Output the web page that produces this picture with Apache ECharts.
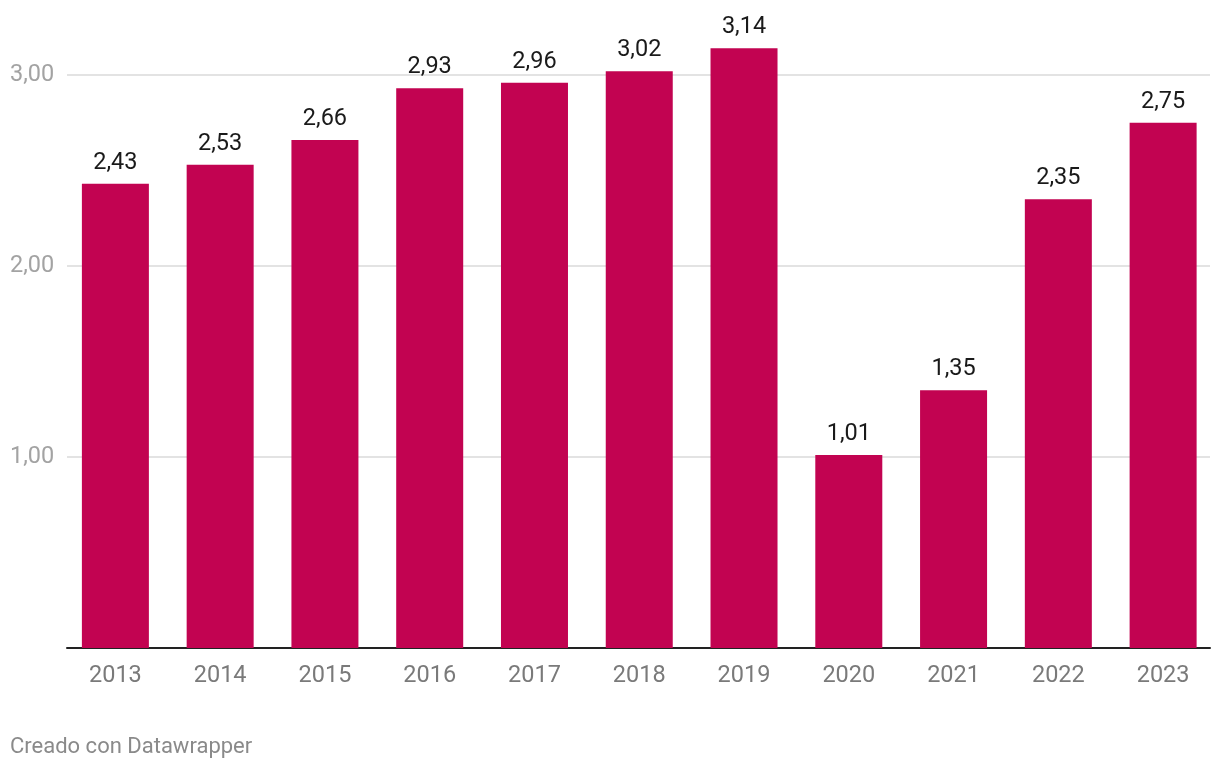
<!DOCTYPE html>
<html>
<head>
<meta charset="utf-8">
<script src="https://cdn.jsdelivr.net/npm/echarts@6/dist/echarts.min.js"></script>
<style>
html,body{margin:0;padding:0;background:#fff;}
#c{width:1220px;height:770px;}
</style>
</head>
<body>
<div id="c"></div>
<script>
const categories = ['2013','2014','2015','2016','2017','2018','2019','2020','2021','2022','2023'];
const values = [2.43, 2.53, 2.66, 2.93, 2.96, 3.02, 3.14, 1.01, 1.35, 2.35, 2.75];
const yTicks = [0, 1, 2, 3];
const footer = 'Creado con Datawrapper';

const fmt = v => v.toFixed(2).replace('.', ',');
const FONT = 'Roboto, sans-serif';
const yMax = 3.3;
const gridTop = 648 - yMax * 191;
const gridBottom = 770 - 648;

const chart = echarts.init(document.getElementById('c'), null, {renderer: 'canvas'});
chart.setOption({
  animation: false,
  backgroundColor: '#fff',
  textStyle: {fontFamily: FONT},
  grid: [
    {left: 63, right: 4.5, top: gridTop, bottom: gridBottom},
    {left: 67, right: 10, top: gridTop, bottom: gridBottom}
  ],
  xAxis: [
    {
      type: 'category', gridIndex: 0, data: categories,
      axisLine: {show: false}, axisTick: {show: false},
      axisLabel: {color: '#7a7a7a', fontSize: 23.5, margin: 16, fontFamily: FONT}
    },
    {
      type: 'value', gridIndex: 1, min: 0, max: 1,
      axisLine: {show: true, onZero: false, lineStyle: {color: '#222', width: 2}},
      axisTick: {show: false}, axisLabel: {show: false}, splitLine: {show: false}
    }
  ],
  yAxis: [
    {
      type: 'value', gridIndex: 0, min: 0, max: yMax,
      axisLine: {show: false}, axisTick: {show: false}, axisLabel: {show: false},
      splitLine: {show: false}
    },
    {
      type: 'value', gridIndex: 1, min: 0, max: yMax, interval: 1,
      axisLine: {show: false}, axisTick: {show: false},
      axisLabel: {
        color: '#a3a3a3', fontSize: 23.5, fontFamily: FONT, align: 'left', margin: 57,
        showMaxLabel: false,
        formatter: v => (yTicks.includes(v) && v !== 0) ? fmt(v) : ''
      },
      splitLine: {
        show: true, showMaxLine: false,
        lineStyle: {color: '#e3e3e3', width: 2}
      }
    }
  ],
  graphic: [{
    type: 'text', left: 10, top: 736,
    style: {text: footer, fill: '#8a8a8a', fontSize: 22, fontFamily: FONT}
  }],
  series: [{
    type: 'bar', xAxisIndex: 0, yAxisIndex: 0,
    data: values, barWidth: 67,
    itemStyle: {color: '#c20351'},
    label: {
      show: true, position: 'top', distance: 9,
      color: '#1a1a1a', fontSize: 23.5, fontFamily: FONT,
      formatter: p => fmt(p.value)
    },
    z: 1
  }]
});
</script>
</body>
</html>
